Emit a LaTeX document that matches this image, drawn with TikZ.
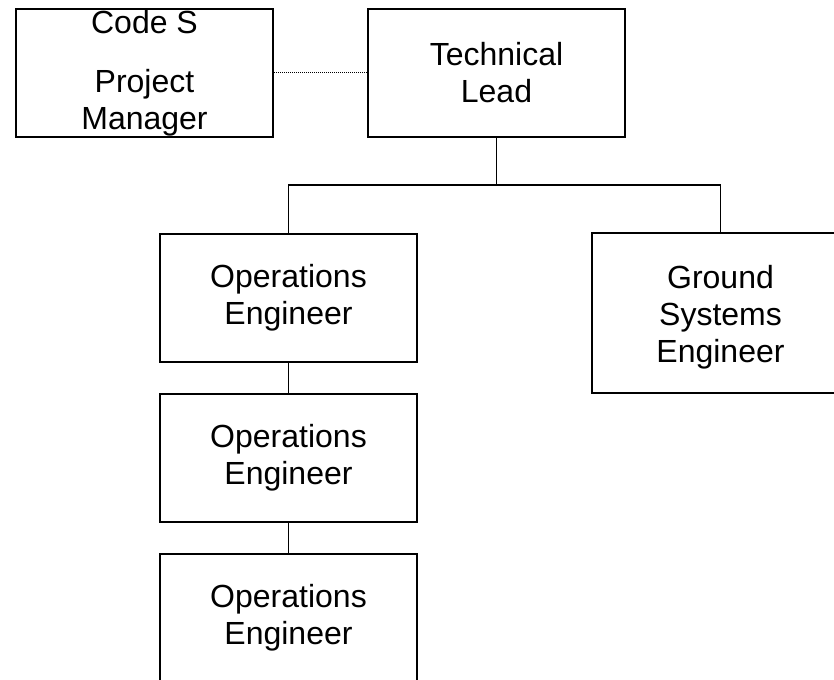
\documentclass[tikz,border=0pt]{standalone}
\usepackage{fontspec}
\setmainfont{Liberation Sans}
\begin{document}
\begin{tikzpicture}[x=1pt,y=-1pt,
  orgbox/.style={draw=black, line width=2pt, fill=white, inner sep=0pt,
    minimum width=257pt, minimum height=128pt, align=center,
    font=\fontsize{32}{37}\selectfont},
  link/.style={draw=black, line width=1.9pt},
  dotlink/.style={draw=black, line width=1pt, dash pattern=on 1pt off 1pt}]
  \useasboundingbox (0,0) rectangle (834,679);
  \clip (0,0) rectangle (834,679);

  % top row
  \node[orgbox] (pm) at (144.5,73) {Code S\\[22pt]Project\\Manager};
  \node[orgbox] (tl) at (496.5,73) {Technical\\Lead};

  % second row
  \node[orgbox] (ops1) at (288.5,297.5) {Operations\\Engineer};
  \node[orgbox, minimum height=160pt] (gse) at (720.5,313)
    {\rule{0pt}{32pt}Ground\\Systems\\Engineer};

  % chain of operations engineers
  \node[orgbox] (ops2) at (288.5,457.5) {Operations\\Engineer};
  \node[orgbox] (ops3) at (288.5,617.5) {Operations\\Engineer};

  % connectors
  \coordinate (bus) at (496.5,185);
  \draw[dotlink] (pm.east) -- (tl.west);
  \draw[link] (tl.south) -- (bus);
  \draw[link] (ops1.north) |- (bus) -| (gse.north);
  \draw[link] (ops1.south) -- (ops2.north);
  \draw[link] (ops2.south) -- (ops3.north);
\end{tikzpicture}
\end{document}
